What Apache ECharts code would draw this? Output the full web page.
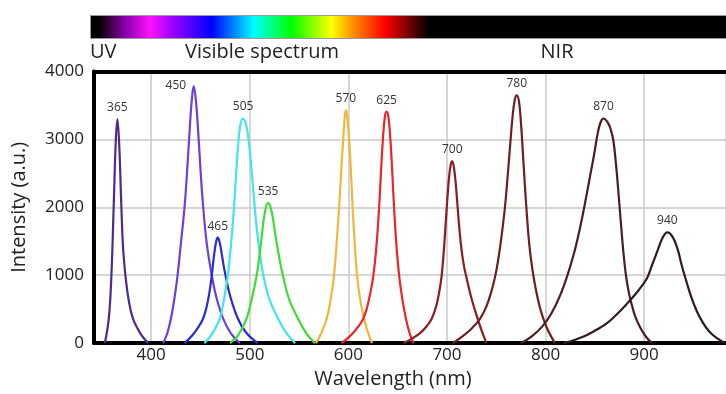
<!DOCTYPE html>
<html>
<head>
<meta charset="utf-8">
<script src="https://cdn.jsdelivr.net/npm/echarts@6/dist/echarts.min.js"></script>
<style>
  html, body { margin: 0; padding: 0; background: #fff; }
  #chart { width: 726px; height: 394px; }
</style>
</head>
<body>
<div id="chart"></div>
<script>
// LED emission spectra, [wavelength (nm), intensity (a.u.)]
const led365 = [[353,0],[357,360],[359.6,980],[362,2030],[364,2950],[365.7,3300],[367.5,2950],[369.7,2030],[371.5,1400],[374,980],[377,650],[381.5,360],[390,120],[397,0]]
const led450 = [[412,0],[416,130],[420,360],[424,700],[426.6,980],[430,1450],[434,2030],[436.5,2550],[438.4,2990],[441,3550],[443.1,3786],[445.5,3550],[448.2,2990],[450,2560],[452.6,2030],[456.5,1450],[461.7,980],[466,680],[473,360],[481,140],[490,0]]
const led465 = [[434,0],[442,120],[448,240],[452.6,358],[456,520],[459,740],[461.3,980],[464,1320],[466,1500],[467.5,1553],[469.5,1480],[471.5,1320],[473.5,1140],[475.6,980],[480,700],[488,358],[496,160],[508,0]]
const led505 = [[454,0],[461,120],[469.5,358],[474,660],[477.5,980],[480.5,1380],[483.5,1900],[486,2450],[488.2,2920],[490.5,3220],[493.2,3308],[496,3230],[498.5,3030],[501,2680],[503.5,2260],[506,1850],[509,1450],[514,980],[520,640],[528.8,358],[537,150],[546,0]]
const led535 = [[480,0],[488,110],[496.6,358],[502,650],[506.8,980],[509.5,1250],[512,1553],[515,1900],[518.6,2065],[522,1950],[526.4,1553],[530,1250],[533.8,980],[540,640],[549,358],[557,150],[566,0]]
const led570 = [[567,0],[572,130],[578,358],[582,640],[585.3,980],[588,1450],[590.7,2030],[592.8,2550],[594.7,2990],[596.3,3330],[597.5,3430],[598.8,3330],[600.8,2990],[602.5,2550],[604.2,2030],[606.5,1450],[608.9,980],[612,640],[616,358],[620,150],[624,0]]
const led625 = [[593,0],[600,80],[606,170],[611,260],[615,358],[618.5,500],[622,720],[625.2,980],[628.3,1400],[631.3,2030],[633.2,2550],[635,3000],[637,3330],[638.8,3408],[640.6,3330],[642.6,3000],[644.4,2550],[646.2,2030],[648.7,1450],[651.6,980],[654.8,640],[658.4,358],[662,150],[666,0]]
const led700 = [[656,0],[665,70],[673,150],[679,240],[684.5,358],[689,540],[692,740],[694.5,980],[696.5,1300],[698.5,1720],[700.5,2150],[702.3,2470],[704,2640],[705.4,2677],[707,2590],[708.7,2380],[710.5,2060],[712.5,1700],[714.8,1370],[717.3,1130],[720,950],[724.5,680],[730.2,400],[735,190],[740,0]]
const led780 = [[706,0],[715,90],[724,200],[733.5,358],[740,540],[745,760],[749,990],[752.5,1280],[756,1650],[759,2030],[761.5,2450],[764,2900],[766.5,3330],[768.7,3580],[770.8,3647],[773,3560],[775,3250],[777,2800],[779,2330],[781,1900],[783.5,1450],[786.5,1100],[790,800],[794,540],[797.8,358],[803,170],[809.5,0]]
const led870 = [[775,0],[786,100],[797,250],[806,440],[814.7,700],[822,990],[829,1330],[835,1700],[840,2060],[845,2450],[849.5,2800],[853,3100],[856,3260],[858.7,3308],[863,3250],[866,3150],[868.8,2980],[871.5,2620],[874,2200],[876.5,1750],[879,1330],[881.5,1000],[884.5,740],[887.5,560],[891,390],[896,230],[902,90],[908,0]]
const led940 = [[818,0],[830,50],[842,120],[852,200],[862,290],[872,420],[882,570],[890,700],[897.5,840],[903,960],[908,1150],[913,1340],[918,1530],[923.5,1630],[929,1560],[934,1380],[938,1150],[943,900],[948,670],[954,450],[960,290],[966,170],[973,80],[982,0]]

const ledNames = ['365', '450', '465', '505', '535', '570', '625', '700', '780', '870', '940']
const ledSpectra = [led365, led450, led465, led505, led535, led570, led625, led700, led780, led870, led940]
const ledColors = ['#4e2a8e', '#6c3fe0', '#2b2bd2', '#3fe6ea', '#3edc36', '#f4b63a', '#e8262c', '#8a1c24', '#6c1e24', '#4a1e20', '#2e1c1e']

const font = '"Open Sans", sans-serif'
const chart = echarts.init(document.getElementById('chart'))

function peakOf(points) {
  return points.reduce((a, b) => (b[1] > a[1] ? b : a))
}

const series = ledSpectra.map((pts, i) => ({
  name: ledNames[i],
  type: 'line',
  data: pts,
  smooth: 0.4,
  showSymbol: false,
  lineStyle: { color: ledColors[i], width: 2.2 },
  itemStyle: { color: ledColors[i] },
  markPoint: {
    symbol: 'circle',
    symbolSize: 1,
    itemStyle: { color: 'rgba(0,0,0,0)' },
    label: {
      show: true,
      position: ledNames[i] === '450' ? 'left' : 'top',
      distance: ledNames[i] === '450' ? 7 : 5,
      formatter: ledNames[i],
      color: '#333',
      fontSize: 12,
      fontFamily: font
    },
    data: [{ coord: peakOf(pts) }]
  }
}))

chart.setOption({
  animation: false,
  backgroundColor: '#fff',
  grid: {
    left: 94,
    right: 0,
    top: 71.5,
    bottom: 44
  },
  xAxis: [
    {
      type: 'value',
      min: 342,
      max: 983,
      name: 'Wavelength (nm)',
      nameLocation: 'middle',
      nameGap: 25,
      nameTextStyle: { color: '#222', fontSize: 20, fontFamily: font, padding: [0, 34, 0, 0] },
      axisLine: { lineStyle: { color: '#000', width: 4 } },
      axisTick: { show: false },
      axisLabel: { color: '#222', fontSize: 17, fontFamily: font, margin: 4, showMinLabel: false, showMaxLabel: false },
      splitLine: { lineStyle: { color: '#c8c8c8', width: 1.5 } }
    },
    {
      // top border of the plot box
      type: 'value',
      position: 'top',
      min: 342,
      max: 983,
      axisLine: { lineStyle: { color: '#000', width: 4 } },
      axisTick: { show: false },
      axisLabel: { show: false },
      splitLine: { show: false }
    }
  ],
  yAxis: {
    type: 'value',
    min: 0,
    max: 4000,
    interval: 1000,
    name: 'Intensity (a.u.)',
    nameLocation: 'middle',
    nameGap: 65,
    nameTextStyle: { color: '#222', fontSize: 20, fontFamily: font },
    axisLine: { show: true, lineStyle: { color: '#000', width: 4 } },
    axisTick: { show: false },
    axisLabel: { color: '#222', fontSize: 17, fontFamily: font, margin: 10, formatter: v => String(v) },
    splitLine: { lineStyle: { color: '#c8c8c8', width: 1.5 } }
  },
  graphic: [
    {
      type: 'rect',
      left: 90,
      top: 15,
      shape: { width: 640, height: 23 },
      style: {
        stroke: '#999',
        lineWidth: 1,
        fill: new echarts.graphic.LinearGradient(0, 0, 1, 0, [
          { offset: 0, color: '#000000' },
          { offset: 0.015, color: '#000000' },
          { offset: 0.03, color: '#3a0040' },
          { offset: 0.056, color: '#8a00b0' },
          { offset: 0.094, color: '#ff10ff' },
          { offset: 0.136, color: '#8a00ff' },
          { offset: 0.19, color: '#0000ff' },
          { offset: 0.256, color: '#00ffff' },
          { offset: 0.314, color: '#00ff00' },
          { offset: 0.377, color: '#ffff00' },
          { offset: 0.41, color: '#ff9000' },
          { offset: 0.46, color: '#ff0000' },
          { offset: 0.495, color: '#800000' },
          { offset: 0.528, color: '#000000' },
          { offset: 1, color: '#000000' }
        ])
      }
    },
    { type: 'text', x: 90, y: 52, style: { text: 'UV', fill: '#222', font: '20px ' + font, align: 'left', verticalAlign: 'middle' } },
    { type: 'text', x: 185, y: 52, style: { text: 'Visible spectrum', fill: '#222', font: '20px ' + font, align: 'left', verticalAlign: 'middle' } },
    { type: 'text', x: 557, y: 52, style: { text: 'NIR', fill: '#222', font: '20px ' + font, align: 'center', verticalAlign: 'middle' } }
  ],
  series: series
})
</script>
</body>
</html>
